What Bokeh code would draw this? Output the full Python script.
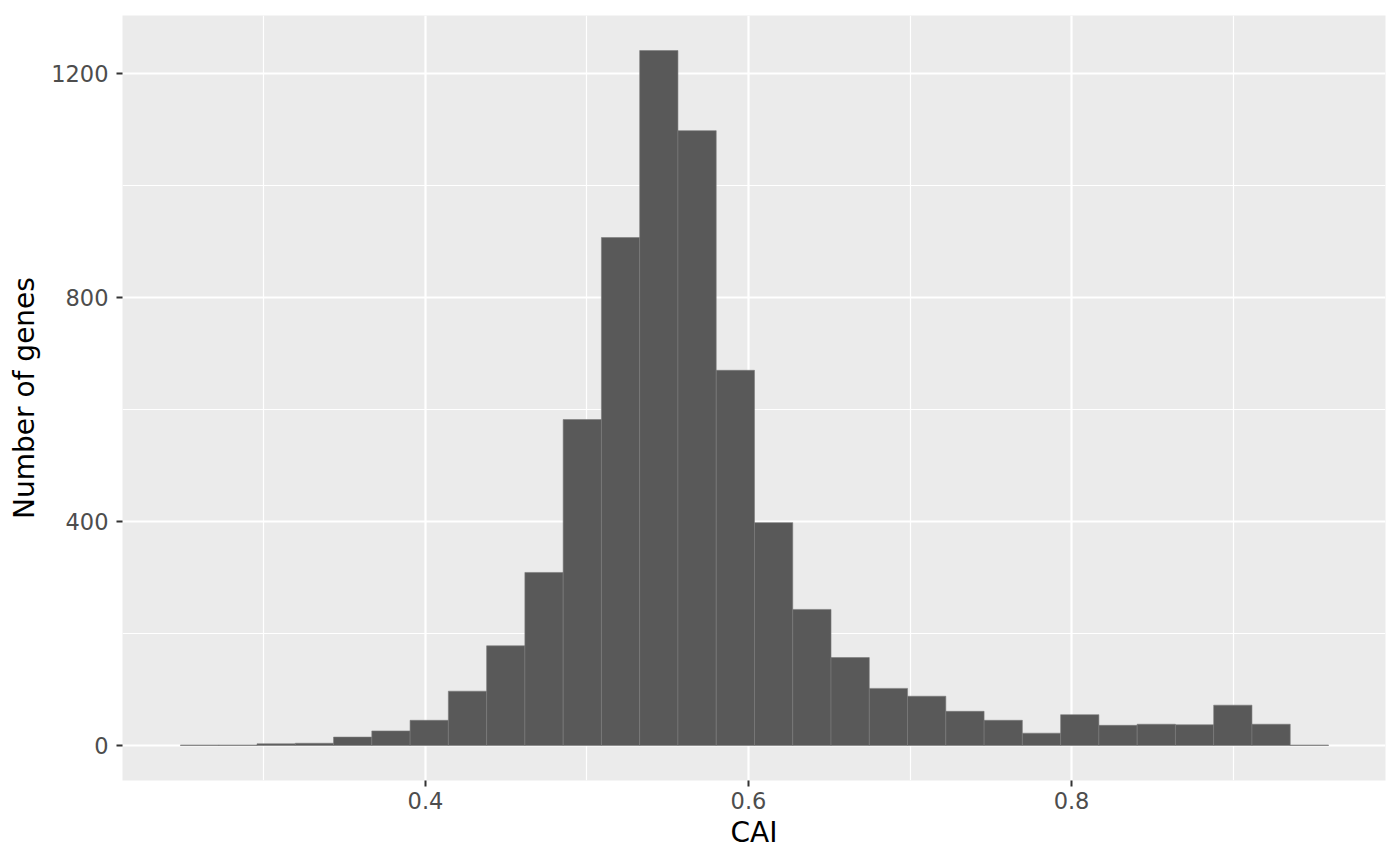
import numpy as np
from bokeh.plotting import figure
from bokeh.models import FixedTicker, Range1d, ColumnDataSource
from bokeh.embed import file_html
from bokeh.resources import INLINE

# Histogram of CAI values (30 bins)
bin_lo = 0.2483
bin_hi = 0.9591
counts = [1, 1, 3, 4, 15, 26, 45, 97, 178, 309, 582, 907, 1241, 1098, 670,
          398, 243, 157, 102, 88, 61, 45, 22, 55, 36, 38, 37, 72, 38, 1]
x_ticks = [0.4, 0.6, 0.8]
x_minor = [0.3, 0.5, 0.7, 0.9]
y_ticks = [0, 400, 800, 1200]
y_minor = [200, 600, 1000]

edges = np.linspace(bin_lo, bin_hi, len(counts) + 1)
src = ColumnDataSource(dict(left=edges[:-1], right=edges[1:],
                            top=counts, bottom=[0] * len(counts)))

p = figure(width=1392, height=857, frame_width=1263, frame_height=765,
           output_backend="svg", toolbar_location=None,
           x_range=Range1d(0.2124, 0.9944), y_range=Range1d(-62.5, 1303.6),
           min_border_left=122, min_border_top=15, min_border_right=7,
           min_border_bottom=77)

p.background_fill_color = "#EBEBEB"
p.border_fill_color = "white"
p.outline_line_color = None

p.quad(left="left", right="right", top="top", bottom="bottom", source=src,
       fill_color="#595959", line_color="#7a7a7a", line_width=0.6)

p.xaxis.ticker = FixedTicker(ticks=x_ticks, minor_ticks=x_minor)
p.yaxis.ticker = FixedTicker(ticks=y_ticks, minor_ticks=y_minor)
p.xaxis.major_label_overrides = {0.4: "0.4", 0.6: "0.6", 0.8: "0.8"}

for g in (p.xgrid, p.ygrid):
    g.grid_line_color = "white"
    g.grid_line_width = 2.2
    g.minor_grid_line_color = "white"
    g.minor_grid_line_width = 1.2
    g.level = "image"

for ax in (p.xaxis, p.yaxis):
    ax.axis_line_color = None
    ax.major_tick_line_color = "#333333"
    ax.major_tick_line_width = 2
    ax.major_tick_out = 6
    ax.major_tick_in = 0
    ax.minor_tick_line_color = None
    ax.major_label_text_font = "DejaVu Sans"
    ax.major_label_text_font_size = "22.5px"
    ax.major_label_text_color = "#4D4D4D"
    ax.axis_label_text_font = "DejaVu Sans"
    ax.axis_label_text_font_size = "28px"
    ax.axis_label_text_font_style = "normal"
    ax.axis_label_text_color = "black"

p.yaxis.major_label_standoff = 8
p.xaxis.major_label_standoff = 5
p.xaxis.axis_label = "CAI"
p.yaxis.axis_label = "Number of genes"
p.xaxis.axis_label_standoff = 4
p.yaxis.axis_label_standoff = 7

open("out.html", "w").write(file_html(p, INLINE))
